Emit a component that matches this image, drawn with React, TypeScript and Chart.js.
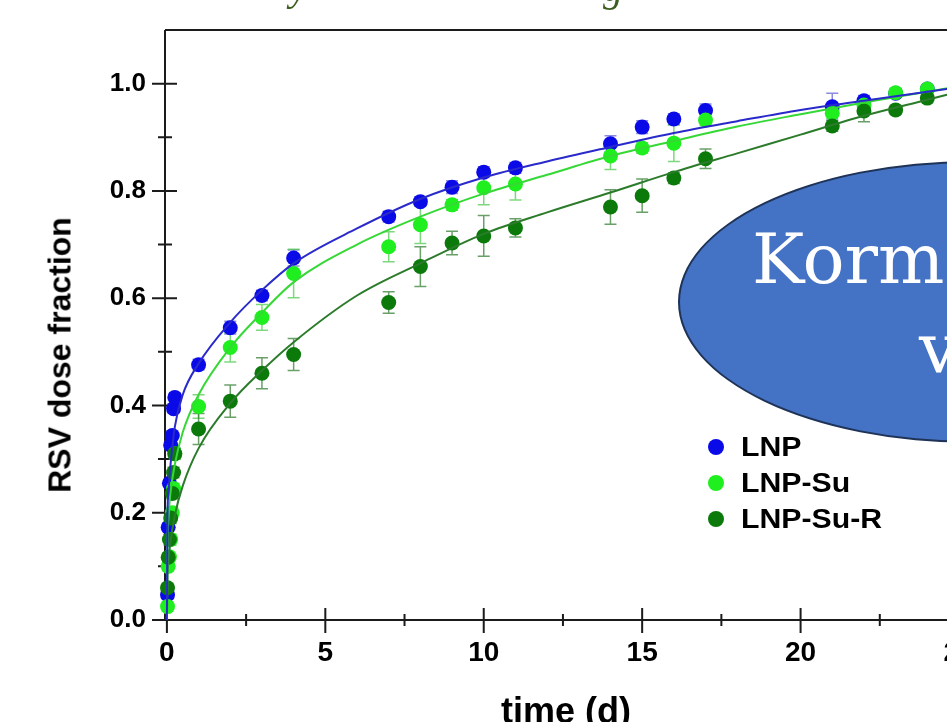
import React, { useEffect, useRef } from "react";
import { Chart, registerables } from "chart.js";

Chart.register(...registerables);

// ---- data ----
const times = [0.02, 0.04, 0.08, 0.12, 0.17, 0.21, 0.25, 1, 2, 3, 4, 7, 8, 9, 10, 11, 14, 15, 16, 17, 21, 22, 23, 24];

const lnp = [0.047, 0.173, 0.255, 0.326, 0.344, 0.394, 0.415, 0.476, 0.545, 0.605, 0.675, 0.752, 0.78, 0.807, 0.835, 0.843, 0.888, 0.919, 0.934, 0.95, 0.957, 0.968, 0.982, 0.99];
const lnpErr = [0.008, 0.008, 0.008, 0.008, 0.008, 0.008, 0.008, 0.01, 0.012, 0.01, 0.015, 0.01, 0.008, 0.012, 0.01, 0.01, 0.015, 0.012, 0.01, 0.012, 0.025, 0.01, 0.008, 0.006];

const lnpSu = [0.025, 0.1, 0.118, 0.15, 0.2, 0.245, 0.31, 0.398, 0.508, 0.564, 0.646, 0.696, 0.737, 0.774, 0.806, 0.813, 0.865, 0.88, 0.889, 0.932, 0.945, 0.96, 0.983, 0.99];
const lnpSuErr = [0.008, 0.008, 0.008, 0.01, 0.01, 0.01, 0.01, 0.022, 0.027, 0.024, 0.045, 0.028, 0.035, 0.01, 0.032, 0.03, 0.025, 0.01, 0.034, 0.01, 0.01, 0.01, 0.008, 0.006];

const lnpSuR = [0.06, 0.117, 0.15, 0.19, 0.236, 0.275, 0.31, 0.356, 0.408, 0.46, 0.495, 0.592, 0.659, 0.703, 0.716, 0.731, 0.77, 0.791, 0.824, 0.86, 0.921, 0.949, 0.951, 0.973];
const lnpSuRErr = [0.008, 0.008, 0.01, 0.01, 0.01, 0.01, 0.01, 0.029, 0.03, 0.029, 0.03, 0.02, 0.037, 0.022, 0.038, 0.017, 0.032, 0.031, 0.01, 0.018, 0.01, 0.02, 0.008, 0.008];

// fitted curves
const fitTimes = [0, 0.02, 0.05, 0.1, 0.25, 0.5, 1, 2, 3, 4, 6, 8, 10, 12, 14, 16, 18, 20, 22, 24, 25];
const lnpFit = [0, 0.2, 0.24, 0.28, 0.36, 0.42, 0.478, 0.555, 0.615, 0.665, 0.73, 0.785, 0.825, 0.855, 0.882, 0.908, 0.93, 0.951, 0.968, 0.985, 0.993];
const lnpSuFit = [0, 0.15, 0.19, 0.23, 0.29, 0.35, 0.42, 0.508, 0.573, 0.63, 0.7, 0.752, 0.795, 0.83, 0.865, 0.893, 0.92, 0.943, 0.965, 0.985, 0.995];
const lnpSuRFit = [0, 0.08, 0.11, 0.14, 0.195, 0.25, 0.32, 0.404, 0.465, 0.518, 0.605, 0.665, 0.72, 0.76, 0.797, 0.835, 0.87, 0.905, 0.94, 0.97, 0.985];

const seriesNames = ["LNP", "LNP-Su", "LNP-Su-R"];

const xTickValues = [0, 5, 10, 15, 20, 25];
const xMinorTicks = [2.5, 7.5, 12.5, 17.5, 22.5];
const yTickValues = [0, 0.2, 0.4, 0.6, 0.8, 1.0];
const yMinorTicks = [0.1, 0.3, 0.5, 0.7, 0.9];

const xTitle = "time (d)";
const yTitle = "RSV dose fraction";

// ---- styles ----
const pointColors = ["#0a0ae8", "#1fee1f", "#0b7a0b"];
const lineColors = ["#2a2acb", "#36d836", "#2b7b2b"];
const errColors = ["rgba(90,90,210,0.7)", "rgba(70,200,70,0.7)", "rgba(40,120,40,0.7)"];

const FONT = "'Liberation Sans', Arial, sans-serif";

const toXY = (xs: number[], ys: number[]) => xs.map((x, i) => ({ x, y: ys[i] }));

export default function App() {
  const ref = useRef<HTMLCanvasElement | null>(null);

  useEffect(() => {
    if (!ref.current) return;
    const pointSets = [lnp, lnpSu, lnpSuR];
    const errSets = [lnpErr, lnpSuErr, lnpSuRErr];
    const fitSets = [lnpFit, lnpSuFit, lnpSuRFit];

    const axesPlugin = {
      id: "axesPlugin",
      beforeDatasetsDraw(chart: any) {
        const { ctx, chartArea, scales } = chart;
        const { left, right, top, bottom } = chartArea;
        ctx.save();
        ctx.strokeStyle = "#1b1b1b";
        ctx.lineWidth = 2;
        ctx.beginPath();
        ctx.moveTo(left, top);
        ctx.lineTo(right, top);
        ctx.moveTo(left, top);
        ctx.lineTo(left, bottom);
        ctx.moveTo(left, bottom);
        ctx.lineTo(right, bottom);
        ctx.moveTo(right, top);
        ctx.lineTo(right, bottom);
        yTickValues.forEach((v) => {
          const y = scales.y.getPixelForValue(v);
          ctx.moveTo(left - 13, y);
          ctx.lineTo(left + 12, y);
        });
        yMinorTicks.forEach((v) => {
          const y = scales.y.getPixelForValue(v);
          ctx.moveTo(left - 7, y);
          ctx.lineTo(left + 7, y);
        });
        xTickValues.forEach((v) => {
          const x = scales.x.getPixelForValue(v);
          ctx.moveTo(x, bottom - 12);
          ctx.lineTo(x, bottom + 13);
        });
        xMinorTicks.forEach((v) => {
          const x = scales.x.getPixelForValue(v);
          ctx.moveTo(x, bottom - 6);
          ctx.lineTo(x, bottom + 6);
        });
        ctx.stroke();

        // error bars
        ctx.lineWidth = 1.5;
        pointSets.forEach((vals, s) => {
          ctx.strokeStyle = errColors[s];
          ctx.beginPath();
          vals.forEach((v, i) => {
            const x = scales.x.getPixelForValue(times[i]);
            const y1 = scales.y.getPixelForValue(v - errSets[s][i]);
            const y2 = scales.y.getPixelForValue(v + errSets[s][i]);
            ctx.moveTo(x, y1);
            ctx.lineTo(x, y2);
            ctx.moveTo(x - 6, y1);
            ctx.lineTo(x + 6, y1);
            ctx.moveTo(x - 6, y2);
            ctx.lineTo(x + 6, y2);
          });
          ctx.stroke();
        });
        ctx.restore();
      },
    };

    const datasets: any[] = [];
    pointSets.forEach((vals, s) => {
      datasets.push({
        type: "scatter",
        label: seriesNames[s],
        data: toXY(times, vals),
        backgroundColor: pointColors[s],
        borderWidth: 0,
        pointRadius: 7.5,
        order: 3 - s,
        clip: false,
      });
    });
    fitSets.forEach((vals, s) => {
      datasets.push({
        type: "line",
        label: seriesNames[s] + " fit",
        data: toXY(fitTimes, vals),
        borderColor: lineColors[s],
        borderWidth: 2,
        pointRadius: 0,
        fill: false,
        cubicInterpolationMode: "monotone",
        order: 0,
      });
    });

    const chart = new Chart(ref.current, {
      type: "scatter",
      data: { datasets },
      options: {
        animation: false,
        responsive: false,
        devicePixelRatio: 1,
        layout: { padding: { top: 30, right: 41, left: 0, bottom: 0 } },
        plugins: { legend: { display: false }, tooltip: { enabled: false } },
        scales: {
          x: {
            type: "linear",
            min: -0.06,
            max: 25,
            afterFit: (s: any) => {
              s.height = 102;
              s.paddingLeft = 0;
              s.paddingRight = 0;
            },
            afterBuildTicks: (s: any) => {
              s.ticks = xTickValues.map((v) => ({ value: v }));
            },
            grid: { display: false, drawTicks: false },
            border: { display: false },
            ticks: {
              color: "#000",
              padding: 16,
              maxRotation: 0,
              autoSkip: false,
              font: { family: FONT, size: 28, weight: "bold" },
              callback: (v: any) => String(v),
            },
          },
          y: {
            type: "linear",
            min: 0,
            max: 1.1,
            afterFit: (s: any) => {
              s.width = 165;
              s.paddingTop = 0;
              s.paddingBottom = 0;
            },
            afterBuildTicks: (s: any) => {
              s.ticks = yTickValues.map((v) => ({ value: v }));
            },
            grid: { display: false, drawTicks: false },
            border: { display: false },
            ticks: {
              color: "#000",
              padding: 19,
              autoSkip: false,
              font: { family: FONT, size: 26, weight: "bold" },
              callback: (v: any) => Number(v).toFixed(1),
            },
          },
        },
      },
      plugins: [axesPlugin],
    } as any);
    return () => chart.destroy();
  }, []);

  const legendRows = [447, 483, 519];

  return (
    <div
      style={{
        position: "fixed",
        left: 0,
        top: 0,
        width: 947,
        height: 722,
        overflow: "hidden",
        background: "#fff",
      }}
    >
      <canvas
        ref={ref}
        width={1000}
        height={722}
        style={{ position: "absolute", left: 0, top: 0, width: 1000, height: 722 }}
      />
      {/* fragments of the slide title above */}
      <span
        style={{
          position: "absolute",
          left: 290,
          top: -33,
          font: "italic 40px 'Liberation Serif', serif",
          lineHeight: "40px",
          color: "#3b5e1f",
        }}
      >
        y
      </span>
      <span
        style={{
          position: "absolute",
          left: 603,
          top: -32,
          font: "italic 40px 'Liberation Serif', serif",
          lineHeight: "40px",
          color: "#3b5e1f",
        }}
      >
        g
      </span>
      {/* axis titles */}
      <div
        style={{
          position: "absolute",
          left: 60,
          top: 355,
          transform: "translate(-50%, -50%) rotate(-90deg)",
          whiteSpace: "nowrap",
          font: `bold 32px ${FONT}`,
          color: "#000",
        }}
      >
        {yTitle}
      </div>
      <div
        style={{
          position: "absolute",
          left: 566,
          top: 693,
          transform: "translateX(-50%)",
          whiteSpace: "nowrap",
          font: `bold 36px ${FONT}`,
          lineHeight: "36px",
          color: "#000",
        }}
      >
        {xTitle}
      </div>
      {/* legend */}
      {seriesNames.map((name, i) => (
        <React.Fragment key={name}>
          <div
            style={{
              position: "absolute",
              left: 716 - 8,
              top: legendRows[i] - 8,
              width: 16,
              height: 16,
              borderRadius: "50%",
              background: pointColors[i],
            }}
          />
          <div
            style={{
              position: "absolute",
              left: 741,
              top: legendRows[i] - 19,
              font: `bold 27px ${FONT}`,
              lineHeight: "38px",
              color: "#000",
              whiteSpace: "nowrap",
              transform: "scaleX(1.12)",
              transformOrigin: "left center",
            }}
          >
            {name}
          </div>
        </React.Fragment>
      ))}
      {/* slide overlay ellipse */}
      <div
        style={{
          position: "absolute",
          left: 678,
          top: 161,
          width: 590,
          height: 282,
          borderRadius: "50%",
          background: "#4472c4",
          border: "2px solid #1f3357",
          boxSizing: "border-box",
        }}
      />
      <span
        style={{
          position: "absolute",
          left: 752,
          top: 224,
          font: "70px 'DejaVu Serif', serif",
          lineHeight: "70px",
          color: "#fff",
          whiteSpace: "nowrap",
        }}
      >
        Korm
      </span>
      <span
        style={{
          position: "absolute",
          left: 919,
          top: 313,
          font: "70px 'DejaVu Serif', serif",
          lineHeight: "70px",
          color: "#fff",
          whiteSpace: "nowrap",
        }}
      >
        v
      </span>
    </div>
  );
}
